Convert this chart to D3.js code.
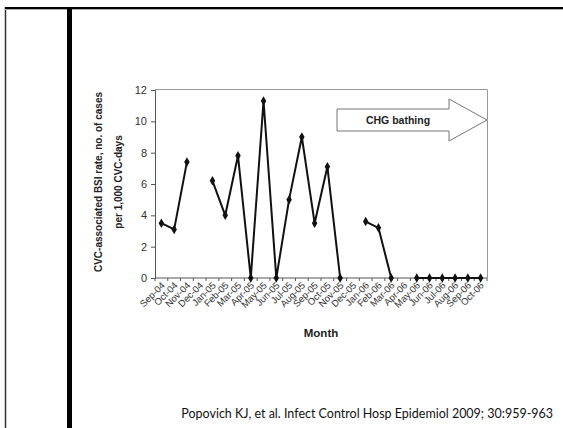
<!DOCTYPE html>
<html>
<head>
<meta charset="utf-8">
<script src="https://cdn.jsdelivr.net/npm/d3@7"></script>
<style>
  html, body { margin: 0; padding: 0; background: #fff; }
  svg { display: block; }
</style>
</head>
<body>
<svg id="slide" width="563" height="428"></svg>
<script>
// Monthly CVC-associated BSI rate (cases per 1,000 CVC-days); null = no data point
const months = ["Sep-04","Oct-04","Nov-04","Dec-04","Jan-05","Feb-05","Mar-05","Apr-05",
  "May-05","Jun-05","Jul-05","Aug-05","Sep-05","Oct-05","Nov-05","Dec-05","Jan-06","Feb-06",
  "Mar-06","Apr-06","May-06","Jun-06","Jul-06","Aug-06","Sep-06","Oct-06"];
const rates = [3.5, 3.1, 7.4, null, 6.2, 4.0, 7.8, 0, 11.3, 0, 5.0, 9.0, 3.5, 7.1, 0,
  null, 3.6, 3.2, 0, null, 0, 0, 0, 0, 0, 0];
const yTicks = [0, 2, 4, 6, 8, 10, 12];
const yTitle = ["CVC-associated BSI rate, no. of cases", "per 1,000 CVC-days"];
const xTitle = "Month";
const arrowLabel = "CHG bathing";
const citation = "Popovich KJ, et al. Infect Control Hosp Epidemiol 2009; 30:959-963";

const svg = d3.select("#slide");

// slide frame: thin left rule, heavy top rule, black accent bar
svg.append("line").attr("x1", 5.5).attr("x2", 5.5).attr("y1", 7).attr("y2", 428)
  .attr("stroke", "#333").attr("stroke-width", 1.5);
svg.append("rect").attr("x", 5).attr("y", 9).attr("width", 558).attr("height", 1).attr("fill", "#aaa");
svg.append("rect").attr("x", 5).attr("y", 7).attr("width", 558).attr("height", 2).attr("fill", "#000");
svg.append("rect").attr("x", 67).attr("y", 9).attr("width", 5).attr("height", 419).attr("fill", "#000");

// plot area
const L = 155, R = 487, T = 90, B = 278;
const x = d3.scaleBand().domain(months).range([L, R]);
const y = d3.scaleLinear().domain([0, 12]).range([B, T]);
const cx = m => x(m) + x.bandwidth() / 2;

// top and right border of plot area
svg.append("path")
  .attr("d", `M${L},${T - 0.5}H${R + 0.5}V${B}`)
  .attr("fill", "none").attr("stroke", "#999").attr("stroke-width", 1);

// y axis
const yAxis = svg.append("g").attr("transform", `translate(${L},0)`)
  .call(d3.axisLeft(y).tickValues(yTicks).tickSize(4).tickPadding(4));
yAxis.select(".domain").attr("stroke", "#555");
yAxis.selectAll(".tick line").attr("stroke", "#555");
yAxis.selectAll("text").attr("font-family", "Arial, 'Liberation Sans', sans-serif")
  .attr("font-size", 11).attr("fill", "#333");

// x axis: ticks between categories, labels rotated
const xAxis = svg.append("g").attr("transform", `translate(0,${B})`);
xAxis.append("line").attr("x1", L).attr("x2", R).attr("y1", 0).attr("y2", 0)
  .attr("stroke", "#555");
xAxis.selectAll("line.tk").data(d3.range(months.length + 1)).join("line")
  .attr("class", "tk")
  .attr("x1", i => L + i * x.bandwidth()).attr("x2", i => L + i * x.bandwidth())
  .attr("y1", 0).attr("y2", 3).attr("stroke", "#555");
xAxis.selectAll("text").data(months).join("text")
  .attr("transform", d => `translate(${cx(d) + 4},${8}) rotate(-45)`)
  .attr("text-anchor", "end")
  .attr("font-family", "Arial, 'Liberation Sans', sans-serif")
  .attr("font-size", 9.5).attr("fill", "#333")
  .text(d => d);

// axis titles
svg.append("text")
  .attr("x", 321).attr("y", 337)
  .attr("text-anchor", "middle")
  .attr("font-family", "Arial, 'Liberation Sans', sans-serif")
  .attr("font-weight", "bold").attr("font-size", 11.5).attr("fill", "#222")
  .text(xTitle);
const yt = svg.append("text")
  .attr("transform", "translate(102,182) rotate(-90)")
  .attr("text-anchor", "middle")
  .attr("font-family", "Arial, 'Liberation Sans', sans-serif")
  .attr("font-weight", "bold").attr("font-size", 10).attr("fill", "#222");
yt.selectAll("tspan").data(yTitle).join("tspan")
  .attr("x", 0).attr("dy", (d, i) => i === 0 ? 0 : 20)
  .text(d => d);

// CHG bathing arrow
const ax0 = 337, axN = 449;
svg.append("path")
  .attr("d", `M${ax0},${109}H${axN}V${99}L${R},${120}L${axN},${141}V${131}H${ax0}Z`)
  .attr("fill", "#fff").attr("stroke", "#777").attr("stroke-width", 1);
svg.append("text")
  .attr("x", 398).attr("y", 123.5)
  .attr("text-anchor", "middle")
  .attr("font-family", "Arial, 'Liberation Sans', sans-serif")
  .attr("font-weight", "bold").attr("font-size", 10.5).attr("fill", "#222")
  .text(arrowLabel);

// rate series
const pts = months.map((m, i) => ({ m, v: rates[i] }));
svg.append("path")
  .datum(pts)
  .attr("fill", "none").attr("stroke", "#111").attr("stroke-width", 2)
  .attr("stroke-linejoin", "round")
  .attr("d", d3.line().defined(d => d.v != null).x(d => cx(d.m)).y(d => y(d.v)));
svg.selectAll("path.mk").data(pts.filter(d => d.v != null)).join("path")
  .attr("class", "mk")
  .attr("transform", d => `translate(${cx(d.m)},${y(d.v)})`)
  .attr("d", d3.symbol(d3.symbolDiamond, 26))
  .attr("fill", "#111");

// citation, sized to span x = 179..553
const cite = svg.append("text")
  .attr("x", 553).attr("y", 418)
  .attr("text-anchor", "end")
  .attr("font-family", "Lato, 'Open Sans', sans-serif")
  .attr("font-size", 13).attr("fill", "#111")
  .text(citation);
const w = cite.node().getComputedTextLength();
if (w > 372) cite.attr("font-size", 13 * 372 / w);
</script>
</body>
</html>
